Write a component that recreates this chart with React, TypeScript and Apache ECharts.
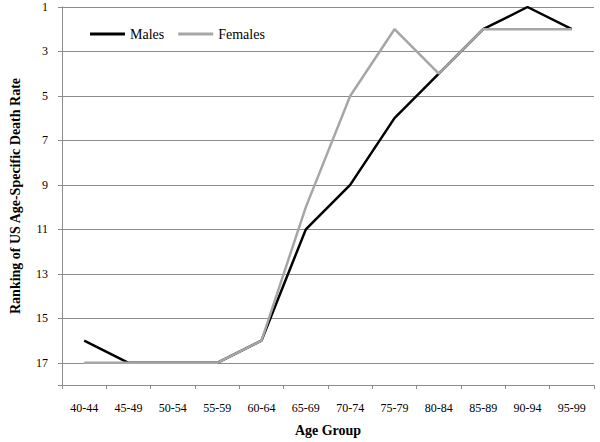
import React, { useEffect, useRef } from "react";
import * as echarts from "echarts";

const categories = ["40-44", "45-49", "50-54", "55-59", "60-64", "65-69", "70-74", "75-79", "80-84", "85-89", "90-94", "95-99"];
const males = [16, 17, 17, 17, 16, 11, 9, 6, 4, 2, 1, 2];
const females = [17, 17, 17, 17, 16, 10, 5, 2, 4, 2, 2, 2];

const FONT = "Liberation Serif";

export default function App() {
  const ref = useRef<HTMLDivElement>(null);
  useEffect(() => {
    if (!ref.current) return;
    const chart = echarts.init(ref.current, undefined, { renderer: "svg" });
    chart.setOption({
      animation: false,
      backgroundColor: "#ffffff",
      textStyle: { fontFamily: FONT },
      grid: { left: 56, right: 6, top: 7, bottom: 54, containLabel: false },
      legend: {
        left: 85,
        top: 22,
        itemWidth: 35,
        itemHeight: 3,
        itemGap: 14,
        textStyle: { fontFamily: FONT, fontSize: 14, color: "#000" },
        data: [
          { name: "Males", icon: "rect", itemStyle: { color: "#000000" } },
          { name: "Females", icon: "rect", itemStyle: { color: "#a6a6a6" } },
        ],
      },
      xAxis: {
        type: "category",
        data: categories,
        boundaryGap: true,
        name: "Age Group",
        nameLocation: "middle",
        nameGap: 38,
        nameTextStyle: { fontFamily: FONT, fontSize: 14, fontWeight: "bold", color: "#000" },
        axisLine: { lineStyle: { color: "#8c8c8c", width: 1 } },
        axisTick: { show: true, alignWithLabel: false, length: 4, lineStyle: { color: "#8c8c8c" } },
        axisLabel: { fontFamily: FONT, fontSize: 12, color: "#000", margin: 17, interval: 0 },
        splitLine: { show: false },
      },
      yAxis: {
        type: "value",
        inverse: true,
        min: 1,
        max: 18,
        interval: 2,
        name: "Ranking of US Age-Specific Death Rate",
        nameLocation: "middle",
        nameGap: 40,
        nameRotate: 90,
        nameTextStyle: { fontFamily: FONT, fontSize: 14, fontWeight: "bold", color: "#000" },
        axisLine: { show: true, lineStyle: { color: "#8c8c8c", width: 1 } },
        axisTick: { show: true, length: 4, lineStyle: { color: "#8c8c8c" } },
        axisLabel: {
          fontFamily: FONT,
          fontSize: 12,
          color: "#000",
          margin: 14,
          formatter: (v: number) => (v === 18 ? "" : String(v)),
        },
        splitLine: { show: true, lineStyle: { color: "#8c8c8c", width: 1 } },
      },
      series: [
        {
          name: "Males",
          type: "line",
          data: males,
          symbol: "none",
          lineStyle: { color: "#000000", width: 2.5 },
          itemStyle: { color: "#000000" },
          z: 2,
        },
        {
          name: "Females",
          type: "line",
          data: females,
          symbol: "none",
          lineStyle: { color: "#a6a6a6", width: 2.5 },
          itemStyle: { color: "#a6a6a6" },
          z: 3,
        },
      ],
    });
    return () => chart.dispose();
  }, []);
  return <div ref={ref} style={{ width: 600, height: 442, position: "absolute", left: 0, top: 0 }} />;
}
